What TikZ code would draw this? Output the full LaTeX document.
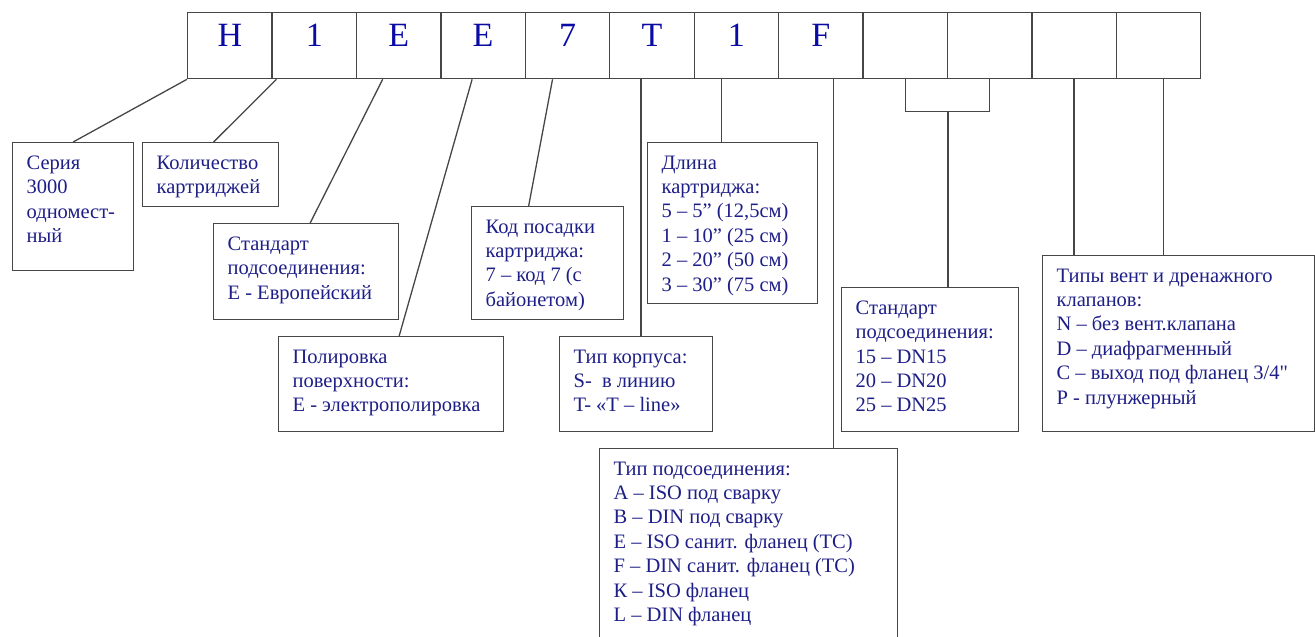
\documentclass[tikz,border=0pt]{standalone}
\usepackage{fontspec}
\setmainfont{Liberation Serif}
\usepackage{tikz}
\definecolor{navy}{RGB}{30,30,135}
\definecolor{codeblue}{RGB}{10,10,165}
\definecolor{linegray}{RGB}{70,70,70}
\newcommand{\boxtext}[3]{\parbox[t][#2pt][t]{#1pt}{\leftskip=14pt #3}}

\begin{document}
\begin{tikzpicture}[x=1pt, y=-1pt,
  cell/.style={draw=linegray, line width=1.3pt, anchor=north west, minimum width=84.42pt, inner xsep=0pt, inner ysep=10.5pt, text height=23pt, text depth=22pt, font=\fontsize{34}{34}\selectfont, text=codeblue},
  note/.style={draw=linegray, line width=1.3pt, anchor=north west, inner xsep=0pt, inner ysep=13pt, font=\fontsize{20.5}{24.4}\selectfont, text=navy},
  link/.style={linegray, line width=1.3pt}]
\useasboundingbox (0,0) rectangle (1315,637);
\clip (0,0) rectangle (1315,637);

\foreach \ch [count=\i] in {H,1,E,E,7,T,1,F,{},{},{},{}}
  \node[cell] (c\i) at ({187+84.42*(\i-1)},12) {\ch};

\node[note] (series) at (12,142) {\boxtext{121}{102}{Серия\\3000\\одномест-\\ный}};
\node[note] (count) at (142,142) {\boxtext{136}{38}{Количество\\картриджей}};
\node[note] (stdconn) at (213,223) {\boxtext{185}{70}{Стандарт\\подсоединения:\\Е - Европейский}};
\node[note] (polish) at (278,336) {\boxtext{225}{69}{Полировка\\поверхности:\\Е - электрополировка}};
\node[note] (seat) at (471,206) {\boxtext{152}{87}{Код посадки\\картриджа:\\7 – код 7 (с\\байонетом)}};
\node[note] (length) at (647,142) {\boxtext{170}{135}{Длина\\картриджа:\\5 – 5” (12,5см)\\1 – 10” (25 см)\\2 – 20” (50 см)\\3 – 30” (75 см)}};
\node[note] (body) at (559,336) {\boxtext{153}{69}{Тип корпуса:\\S-~~в линию\\T- «T – line»}};
\node[note] (conntype) at (599,448) {\boxtext{298}{174}{Тип подсоединения:\\A – ISO под сварку\\B – DIN под сварку\\E – ISO санит. фланец (TC)\\F – DIN санит. фланец (TC)\\К – ISO фланец\\L – DIN фланец}};
\node[note] (size) at (841,287) {\boxtext{177}{118}{Стандарт\\подсоединения:\\15 – DN15\\20 – DN20\\25 – DN25}};
\node[note] (vent) at (1042,255) {\boxtext{272}{150}{Типы вент и дренажного\\клапанов:\\N – без вент.клапана\\D – диафрагменный\\C – выход под фланец 3/4\textquotedbl\\P - плунжерный}};

\coordinate (k6) at ([xshift=-11pt]c6.south);
\coordinate (k7) at ([xshift=-15pt]c7.south);
\coordinate (k8) at ([xshift=13pt]c8.south);
\coordinate (k12) at ([xshift=5pt]c12.south);
\coordinate (brk) at ([yshift=-32pt]c9.south east);

\draw[link] (c1.south west) -- (series.north);
\draw[link] ([xshift=5pt]c2.south west) -- ([xshift=3pt]count.north);
\draw[link] ([xshift=-16pt]c3.south) -- ([xshift=4pt]stdconn.north);
\draw[link] ([xshift=-11pt]c4.south) -- ([xshift=8pt]polish.north);
\draw[link] ([xshift=-15pt]c5.south) -- ([xshift=-19pt]seat.north);
\draw[link] (k6) -- (k6 |- body.north);
\draw[link] (k7) -- (k7 |- length.north);
\draw[link] (k8) -- (k8 |- conntype.north);
\draw[link] (c9.south) |- (brk) -| (c10.south);
\draw[link] (brk) -- (brk |- size.north);
\draw[link] (c11.south) -- (c11.south |- vent.north);
\draw[link] (k12) -- (k12 |- vent.north);
\end{tikzpicture}
\end{document}
